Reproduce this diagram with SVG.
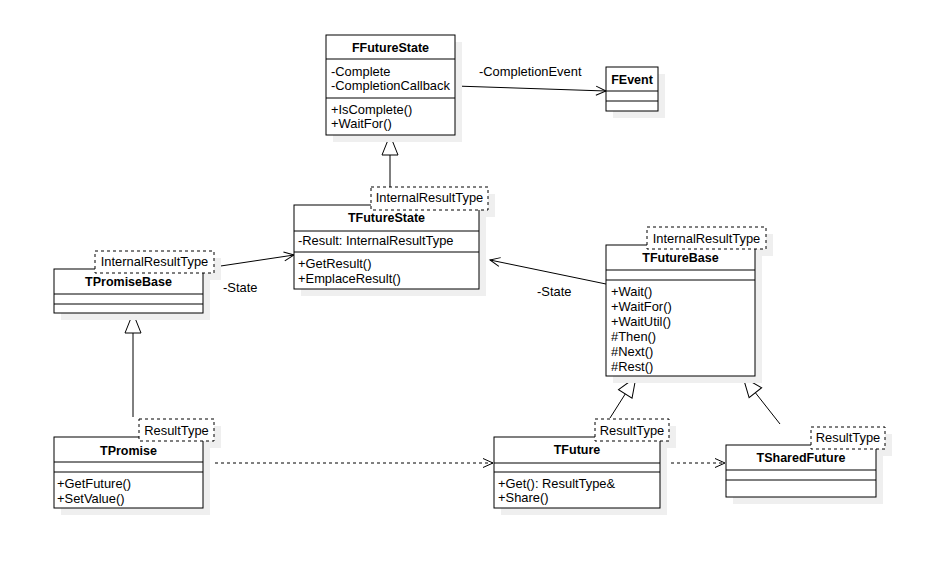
<svg xmlns="http://www.w3.org/2000/svg" width="930" height="563" viewBox="0 0 930 563">
<style>
text{font-family:"Liberation Sans",Arial,sans-serif;font-size:12.9px;fill:#000}
.t{font-weight:bold;font-size:12.5px;text-anchor:middle}
.c{text-anchor:middle}
.box{fill:#fff;stroke:#000;stroke-width:1}
.sh{fill:#efefef}
.tpl{fill:#fff;stroke:#000;stroke-width:1;stroke-dasharray:3 3}
.dv{stroke:#000;stroke-width:1}
.ln{stroke:#000;stroke-width:1;fill:none}
.inh{marker-end:url(#tri)}
.asc{marker-end:url(#open)}
.dep{stroke-dasharray:3 3;marker-end:url(#open)}
</style>
<defs>
<marker id="tri" markerUnits="userSpaceOnUse" markerWidth="22" markerHeight="18" viewBox="-1 -1 22 18" refX="20" refY="8" orient="auto" overflow="visible">
<path d="M0,0 L20,8 L0,16 Z" fill="#fff" stroke="#000" stroke-width="1"/>
</marker>
<marker id="open" markerUnits="userSpaceOnUse" markerWidth="12" markerHeight="11" viewBox="-1 -1 12 11" refX="10" refY="4.5" orient="auto" overflow="visible">
<path d="M0,0 L10,4.5 L0,9" fill="none" stroke="#000" stroke-width="1"/>
</marker>
</defs>
<rect width="930" height="563" fill="#fff"/>

<g id="connectors">
<line class="ln asc" x1="455" y1="86" x2="606" y2="91"/>
<text x="479" y="76">-CompletionEvent</text>
<line class="ln inh" x1="390" y1="187" x2="390" y2="135"/>
<line class="ln asc" x1="214" y1="267" x2="294" y2="255"/>
<text x="223" y="292">-State</text>
<line class="ln asc" x1="606" y1="284" x2="490" y2="260"/>
<text x="537" y="296">-State</text>
<line class="ln inh" x1="133" y1="417" x2="133" y2="313"/>
<line class="ln dep" x1="215" y1="463" x2="493" y2="463"/>
<line class="ln inh" x1="610" y1="418" x2="636" y2="377"/>
<line class="ln inh" x1="780" y1="424" x2="743" y2="377"/>
<line class="ln dep" x1="671" y1="463" x2="725" y2="463"/>
</g>

<g id="FFutureState">
<rect class="sh" x="333" y="42" width="129" height="100"/>
<rect class="box" x="326" y="35" width="129" height="100"/>
<line class="dv" x1="326" y1="59" x2="455" y2="59"/>
<line class="dv" x1="326" y1="98" x2="455" y2="98"/>
<text class="t" x="390.5" y="52">FFutureState</text>
<text x="331" y="76">-Complete</text>
<text x="331" y="90">-CompletionCallback</text>
<text x="331" y="114">+IsComplete()</text>
<text x="331" y="128">+WaitFor()</text>
</g>

<g id="FEvent">
<rect class="sh" x="613" y="74" width="52" height="44"/>
<rect class="box" x="606" y="67" width="52" height="44"/>
<line class="dv" x1="606" y1="91" x2="658" y2="91"/>
<line class="dv" x1="606" y1="101" x2="658" y2="101"/>
<text class="t" x="632" y="84">FEvent</text>
</g>

<g id="TFutureState">
<rect class="sh" x="301" y="212" width="185" height="84"/>
<rect class="sh" x="378" y="194" width="117" height="23"/>
<rect class="box" x="294" y="205" width="185" height="84"/>
<line class="dv" x1="294" y1="231" x2="479" y2="231"/>
<line class="dv" x1="294" y1="252" x2="479" y2="252"/>
<text class="t" x="386.5" y="222">TFutureState</text>
<text x="298" y="245">-Result: InternalResultType</text>
<text x="298" y="268">+GetResult()</text>
<text x="298" y="283">+EmplaceResult()</text>
<rect class="tpl" x="371" y="187" width="117" height="23"/>
<text class="c" x="429.5" y="202">InternalResultType</text>
</g>

<g id="TPromiseBase">
<rect class="sh" x="61" y="276" width="149" height="44"/>
<rect class="sh" x="102" y="258" width="119" height="22"/>
<rect class="box" x="54" y="269" width="149" height="44"/>
<line class="dv" x1="54" y1="294" x2="203" y2="294"/>
<line class="dv" x1="54" y1="304" x2="203" y2="304"/>
<text class="t" x="128.5" y="286">TPromiseBase</text>
<rect class="tpl" x="95" y="251" width="119" height="22"/>
<text class="c" x="154.5" y="265.5">InternalResultType</text>
</g>

<g id="TFutureBase">
<rect class="sh" x="613" y="252" width="149" height="131"/>
<rect class="sh" x="654" y="234" width="119" height="22"/>
<rect class="box" x="606" y="245" width="149" height="131"/>
<line class="dv" x1="606" y1="270" x2="755" y2="270"/>
<line class="dv" x1="606" y1="280" x2="755" y2="280"/>
<text class="t" x="680.5" y="262">TFutureBase</text>
<text x="611" y="295.5">+Wait()</text>
<text x="611" y="310.5">+WaitFor()</text>
<text x="611" y="325.5">+WaitUtil()</text>
<text x="611" y="340.5">#Then()</text>
<text x="611" y="355.5">#Next()</text>
<text x="611" y="370.5">#Rest()</text>
<rect class="tpl" x="647" y="227" width="119" height="22"/>
<text class="c" x="706.5" y="243">InternalResultType</text>
</g>

<g id="TPromise">
<rect class="sh" x="61" y="444" width="149" height="71"/>
<rect class="sh" x="146" y="426" width="75" height="22"/>
<rect class="box" x="54" y="437" width="149" height="71"/>
<line class="dv" x1="54" y1="462" x2="203" y2="462"/>
<line class="dv" x1="54" y1="472" x2="203" y2="472"/>
<text class="t" x="128.5" y="454.5">TPromise</text>
<text x="57" y="488">+GetFuture()</text>
<text x="57" y="503">+SetValue()</text>
<rect class="tpl" x="139" y="419" width="75" height="22"/>
<text class="c" x="176.5" y="434.5">ResultType</text>
</g>

<g id="TFuture">
<rect class="sh" x="501" y="444" width="166" height="71"/>
<rect class="sh" x="602" y="426" width="74" height="22"/>
<rect class="box" x="494" y="437" width="166" height="71"/>
<line class="dv" x1="494" y1="463" x2="660" y2="463"/>
<line class="dv" x1="494" y1="472" x2="660" y2="472"/>
<text class="t" x="577" y="454">TFuture</text>
<text x="498" y="488">+Get(): ResultType&amp;</text>
<text x="498" y="501.5">+Share()</text>
<rect class="tpl" x="595" y="419" width="74" height="22"/>
<text class="c" x="632" y="434.5">ResultType</text>
</g>

<g id="TSharedFuture">
<rect class="sh" x="733" y="452" width="150" height="52"/>
<rect class="sh" x="818" y="434" width="74" height="22"/>
<rect class="box" x="726" y="445" width="150" height="52"/>
<line class="dv" x1="726" y1="470" x2="876" y2="470"/>
<line class="dv" x1="726" y1="480" x2="876" y2="480"/>
<text class="t" x="801" y="462">TSharedFuture</text>
<rect class="tpl" x="811" y="427" width="74" height="22"/>
<text class="c" x="848" y="442">ResultType</text>
</g>
</svg>
